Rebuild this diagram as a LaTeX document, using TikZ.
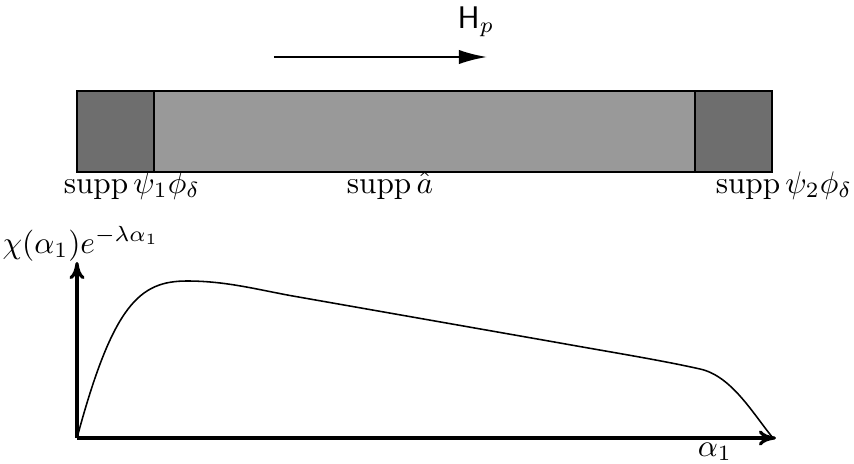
\documentclass[tikz,border=0pt]{standalone}
\usetikzlibrary{arrows.meta}
\definecolor{darkpart}{RGB}{110,110,110}
\definecolor{lightpart}{RGB}{153,153,153}
\begin{document}
\begin{tikzpicture}[x=0.32pt,y=-0.32pt,
  region/.style={draw=black,line width=0.4pt},
  flowarrow/.style={line width=0.7pt,-{Latex[length=9pt,width=4.6pt]}},
  axis/.style={line width=1pt,-{To[length=5.5pt,width=4.8pt]}},
  lbl/.style={anchor=base,inner sep=0pt}]
\useasboundingbox (0,0) rectangle (854,464);
% flow arrow
\coordinate (fa) at (274,57);
\coordinate (fb) at (487,57);
\draw[flowarrow] (fa) -- (fb);
\node[lbl] (hp) at (476,28) {$\mathsf{H}_p$};
% bar
\path[region,fill=lightpart] (154,91) rectangle (695,172);
\path[region,fill=darkpart] (77,91) rectangle (154,172);
\path[region,fill=darkpart] (695,91) rectangle (772,172);
\node[lbl] (s1) at (132,193) {$\mathrm{supp}\,\psi_1\phi_\delta$};
\node[lbl] (sa) at (390,193) {$\mathrm{supp}\,\hat a$};
\node[lbl] (s2) at (784,193) {$\mathrm{supp}\,\psi_2\phi_\delta$};
% axes
\coordinate (O) at (77,438);
\coordinate (Y) at (77,262);
\coordinate (X) at (776,438);
\draw[axis] (O) -- (Y);
\draw[axis] (O) -- (X);
\node[lbl] (ylab) at (81,253) {$\chi(\alpha_1)e^{-\lambda\alpha_1}$};
\node[lbl] (xlab) at (715,456) {$\alpha_1$};
% curve
\draw[line width=0.5pt] (O)
  .. controls (113,304) and (140,281) .. (187,281)
  .. controls (225,281) and (255,289) .. (290,295.5)
  -- (560,343)
  .. controls (610,352) and (660,360) .. (700,369)
  .. controls (732,376) and (753.5,414.6) .. (773,438);
\end{tikzpicture}
\end{document}
